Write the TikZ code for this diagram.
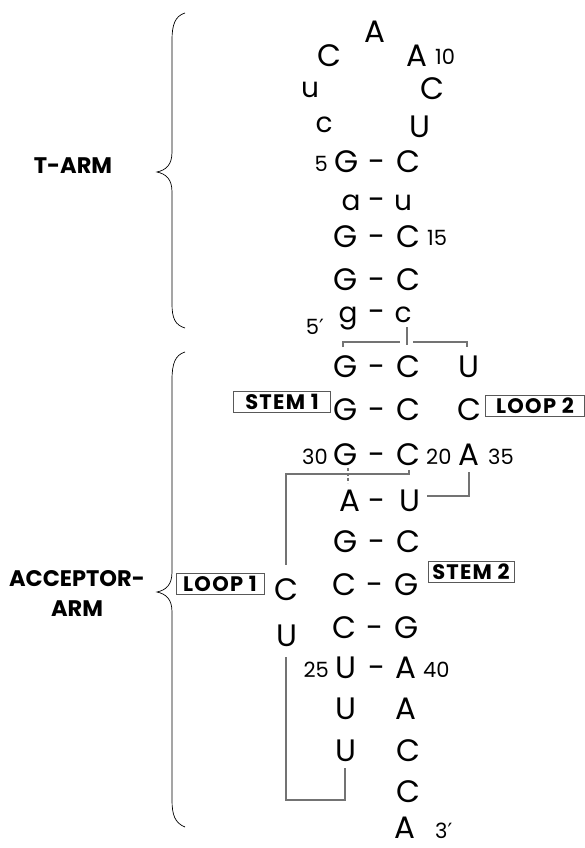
\documentclass[tikz,border=0pt]{standalone}
\usepackage{fontspec}
\setmainfont{Poppins}
\newfontfamily\dvs{DejaVu Sans}
\begin{document}
\begin{tikzpicture}[x=1pt,y=-1pt,
 nt/.style={inner sep=0pt, anchor=base, font=\fontsize{31}{31}\selectfont},
 lw/.style={nt, font=\fontsize{28}{28}\selectfont},
 num/.style={inner sep=0pt, font=\fontsize{21}{21}\selectfont},
 numl/.style={num, anchor=base west},
 numr/.style={num, anchor=base east},
 arm/.style={inner sep=0pt, font=\fontsize{22.5}{30}\selectfont\bfseries, align=center},
 tag/.style={draw=black!65, line width=0.9pt, inner sep=0pt, minimum height=21pt,
   font=\fontsize{21}{21}\selectfont\bfseries\addfontfeature{LetterSpace=6}},
 link/.style={draw=black!55, line width=1.1pt},
 brc/.style={draw=black, line width=0.7pt}]
\useasboundingbox[fill=white] (0,0) rectangle (585,848);

% braces
\draw[brc] (185,13) .. controls (175,16) and (172,25) .. (172,40) -- (172,152)
  .. controls (172,165) and (166,170) .. (157,172)
  .. controls (166,174) and (172,179) .. (172,192) -- (172,304)
  .. controls (172,318) and (175,325) .. (185,328);
\draw[brc] (185,352) .. controls (175,355) and (172,364) .. (172,380) -- (172,572)
  .. controls (172,585) and (166,590) .. (157,592)
  .. controls (166,594) and (172,599) .. (172,612) -- (172,800)
  .. controls (172,815) and (175,823) .. (185,827);
\node[arm] (tarm) at (73,166) {T-ARM};
\node[arm] (aarm) at (77,593) {ACCEPTOR-\\ARM};

% top loop
\node[nt] (tA) at (375,43) {A};
\node[nt] (t1) at (329,67) {C};
\node[nt] (tA2) at (417,67) {A};
\node[numl] (n10) at (435,65) {10};
\node[lw] (t2) at (310,98) {u};
\node[nt] (tC) at (432,100) {C};
\node[lw] (t3) at (324,132) {c};
\node[nt] (tU) at (420,138) {U};
% T stem
\node[numr] (n5) at (328,171) {5};
\node[nt] (s1l) at (347,172) {G};
\node[nt] (s1d) at (377,172) {-};
\node[nt] (s1r) at (408,172) {C};
\node[lw] (s2l) at (351,210) {a};
\node[nt] (s2d) at (377,210) {-};
\node[lw] (s2r) at (403,210) {u};
\node[nt] (s3l) at (346,247) {G};
\node[nt] (s3d) at (377,247) {-};
\node[nt] (s3r) at (408,247) {C};
\node[numl] (n15) at (427,245) {15};
\node[nt] (s4l) at (346,290) {G};
\node[nt] (s4d) at (377,290) {-};
\node[nt] (s4r) at (408,290) {C};
\node[lw] (s5l) at (348,322) {g};
\node[nt] (s5d) at (377,322) {-};
\node[lw] (s5r) at (403,322) {c};
\node[numr] (n5p) at (324,334) {5{\dvs ′}};

% acceptor arm
\node[nt] (a1l) at (346,377) {G};
\node[nt] (a1d) at (377,377) {-};
\node[nt] (a1r) at (408,377) {C};
\node[nt] (l2a) at (469,377) {U};
\node[nt] (a2l) at (346,420) {G};
\node[nt] (a2d) at (377,420) {-};
\node[nt] (a2r) at (408,420) {C};
\node[nt] (l2b) at (469,420) {C};
\node[numr] (n30) at (328,464) {30};
\node[nt] (a3l) at (346,465) {G};
\node[nt] (a3d) at (377,465) {-};
\node[nt] (a3r) at (408,465) {C};
\node[numl] (n20) at (426,464) {20};
\node[nt] (l2c) at (469,465) {A};
\node[numl] (n35) at (488,464) {35};
\node[nt] (a4l) at (350,511) {A};
\node[nt] (a4d) at (377,511) {-};
\node[nt] (a4r) at (410,511) {U};
\node[nt] (a5l) at (346,552) {G};
\node[nt] (a5d) at (377,552) {-};
\node[nt] (a5r) at (408,552) {C};
\node[nt] (a6l) at (344,595) {C};
\node[nt] (a6d) at (375,595) {-};
\node[nt] (a6r) at (407,595) {G};
\node[nt] (a7l) at (344,638) {C};
\node[nt] (a7d) at (375,638) {-};
\node[nt] (a7r) at (407,638) {G};
\node[numr] (n25) at (329,677) {25};
\node[nt] (a8l) at (346,678) {U};
\node[nt] (a8d) at (377,678) {-};
\node[nt] (a8r) at (406,678) {A};
\node[numl] (n40) at (423,677) {40};
\node[nt] (a9l) at (346,719) {U};
\node[nt] (a9r) at (406,719) {A};
\node[nt] (a10l) at (346,761) {U};
\node[nt] (a10r) at (408,761) {C};
\node[nt] (a11r) at (408,802) {C};
\node[nt] (a12r) at (405,838) {A};
\node[numl] (n3p) at (435,838) {3{\dvs ′}};
% loop 1
\node[nt] (l1a) at (286,600) {C};
\node[nt] (l1b) at (287,646) {U};

% tags
\node[tag, minimum width=97pt] (stem1) at (282,402) {STEM 1};
\node[tag, minimum width=99pt] (loop2) at (535,406) {LOOP 2};
\node[tag, minimum width=86pt] (stem2) at (471,572) {STEM 2};
\node[tag, minimum width=88pt] (loop1) at (220,584) {LOOP 1};

% connectors
\draw[link] (407,327) -- (407,345);
\draw[link] (343,347) -- (343,342) -- (400,342);
\draw[link] (413,342) -- (467,342) -- (467,347);
\draw[link, dash pattern=on 3pt off 2pt] (348,468) -- (348,483);
\draw[link] (409,470) -- (409,474) -- (286,474) -- (286,565);
\draw[link] (286,657) -- (286,800) -- (345,800) -- (345,768);
\draw[link] (427,496) -- (469,496) -- (469,472);
\end{tikzpicture}
\end{document}
